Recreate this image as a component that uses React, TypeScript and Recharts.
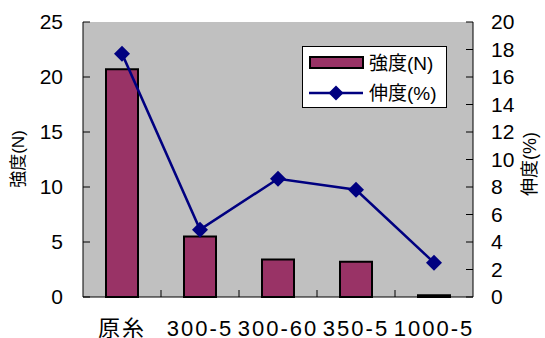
import React from 'react';
import { ComposedChart, Bar, Line, XAxis, YAxis, CartesianGrid, Legend } from 'recharts';

const categories = ['原糸', '300-5', '300-60', '350-5', '1000-5'];
const strength = [20.7, 5.5, 3.4, 3.2, 0.15];
const elongation = [17.7, 4.9, 8.6, 7.8, 2.5];
const strengthTicks = [0, 5, 10, 15, 20, 25];
const elongationTicks = [0, 2, 4, 6, 8, 10, 12, 14, 16, 18, 20];

const data = categories.map((name, i) => ({
  name,
  strength: strength[i],
  elongation: elongation[i],
}));

const FONT = '"Liberation Sans", Arial, "Noto Sans CJK JP", sans-serif';
const BAR_COLOR = '#993366';
const LINE_COLOR = '#000080';
const X_TICK_MARGIN = 23;

// category labels, plus the short inside tick at each category boundary
const CategoryTick = (props: any) => {
  const { x, y, payload, index } = props;
  const half = payload.offset ?? 39;
  const axisY = y - X_TICK_MARGIN;
  return (
    <g>
      {index > 0 && (
        <line x1={x - half} x2={x - half} y1={axisY} y2={axisY - 7} stroke="#000" strokeWidth={1} />
      )}
      <text x={x} y={y} dy="0.71em" textAnchor="middle" fontSize={22} fill="#000" fontFamily={FONT} letterSpacing={2}>
        {payload.value}
      </text>
    </g>
  );
};

const Diamond = (props: any) => {
  const { cx, cy, index } = props;
  if (cx == null || cy == null) return null;
  const r = 8;
  return (
    <path
      key={`d-${index}`}
      d={`M${cx},${cy - r}L${cx + r},${cy}L${cx},${cy + r}L${cx - r},${cy}Z`}
      fill={LINE_COLOR}
    />
  );
};

const LegendBox = () => (
  <svg width={145} height={62} style={{ display: 'block', fontFamily: FONT }}>
    <rect x={0.5} y={0.5} width={144} height={61} fill="#fff" stroke="#000" strokeWidth={1} />
    <rect x={8} y={11} width={53} height={11} fill={BAR_COLOR} stroke="#000" strokeWidth={2} />
    <text x={67} y={17} dy="0.35em" fontSize={19} fill="#000">強度(N)</text>
    <line x1={7} x2={61} y1={47} y2={47} stroke={LINE_COLOR} strokeWidth={2.5} />
    <path d="M34,39.5L41.5,47L34,54.5L26.5,47Z" fill={LINE_COLOR} />
    <text x={67} y={47} dy="0.35em" fontSize={19} fill="#000">伸度(%)</text>
  </svg>
);

export default function App() {
  return (
    <div style={{ width: 545, height: 338, background: '#fff', fontFamily: FONT }}>
      <style>{'html, body { margin: 0; padding: 0; }'}</style>
      <ComposedChart
        width={545}
        height={338}
        data={data}
        margin={{ top: 22, right: 0, bottom: 0, left: 0 }}
        style={{ fontFamily: FONT }}
      >
        <CartesianGrid horizontal={false} vertical={false} fill="#c0c0c0" />
        <XAxis
          dataKey="name"
          height={41}
          tickLine={false}
          tickSize={0}
          tickMargin={X_TICK_MARGIN}
          axisLine={{ stroke: '#000', strokeWidth: 1 }}
          tick={<CategoryTick />}
          interval={0}
        />
        <XAxis xAxisId="top" orientation="top" dataKey="name" height={0} tick={false} tickLine={false} axisLine={{ stroke: '#808080' }} />
        <YAxis
          yAxisId="left"
          width={83}
          domain={[0, 25]}
          ticks={strengthTicks}
          interval={0}
          tickSize={-7}
          tickMargin={27}
          axisLine={{ stroke: '#000' }}
          tickLine={{ stroke: '#000' }}
          tick={{ fill: '#000', fontSize: 21, fontFamily: FONT }}
          label={{
            content: () => (
              <text x={18} y={159} transform="rotate(-90 18 159)" textAnchor="middle" dy="0.35em" fontSize={17} fill="#000" fontFamily={FONT}>
                強度(N)
              </text>
            ),
          }}
        />
        <YAxis
          yAxisId="right"
          orientation="right"
          width={72}
          domain={[0, 20]}
          ticks={elongationTicks}
          interval={0}
          tickSize={-7}
          tickMargin={25}
          axisLine={{ stroke: '#000' }}
          tickLine={{ stroke: '#000' }}
          tick={{ fill: '#000', fontSize: 21, fontFamily: FONT, textAnchor: 'start' }}
          label={{
            content: () => (
              <text x={530} y={164} transform="rotate(-90 530 164)" textAnchor="middle" dy="0.35em" fontSize={18} fill="#000" fontFamily={FONT}>
                伸度(%)
              </text>
            ),
          }}
        />
        <Bar
          yAxisId="left"
          dataKey="strength"
          name="強度(N)"
          fill={BAR_COLOR}
          stroke="#000"
          strokeWidth={2}
          barSize={32}
          isAnimationActive={false}
        />
        <Line
          yAxisId="right"
          dataKey="elongation"
          name="伸度(%)"
          type="linear"
          stroke={LINE_COLOR}
          strokeWidth={2.5}
          dot={<Diamond />}
          activeDot={false}
          isAnimationActive={false}
        />
        <Legend
          layout="horizontal"
          verticalAlign="middle"
          align="center"
          content={() => <LegendBox />}
          wrapperStyle={{ left: 302, top: 46, width: 145, height: 62 }}
        />
      </ComposedChart>
    </div>
  );
}
